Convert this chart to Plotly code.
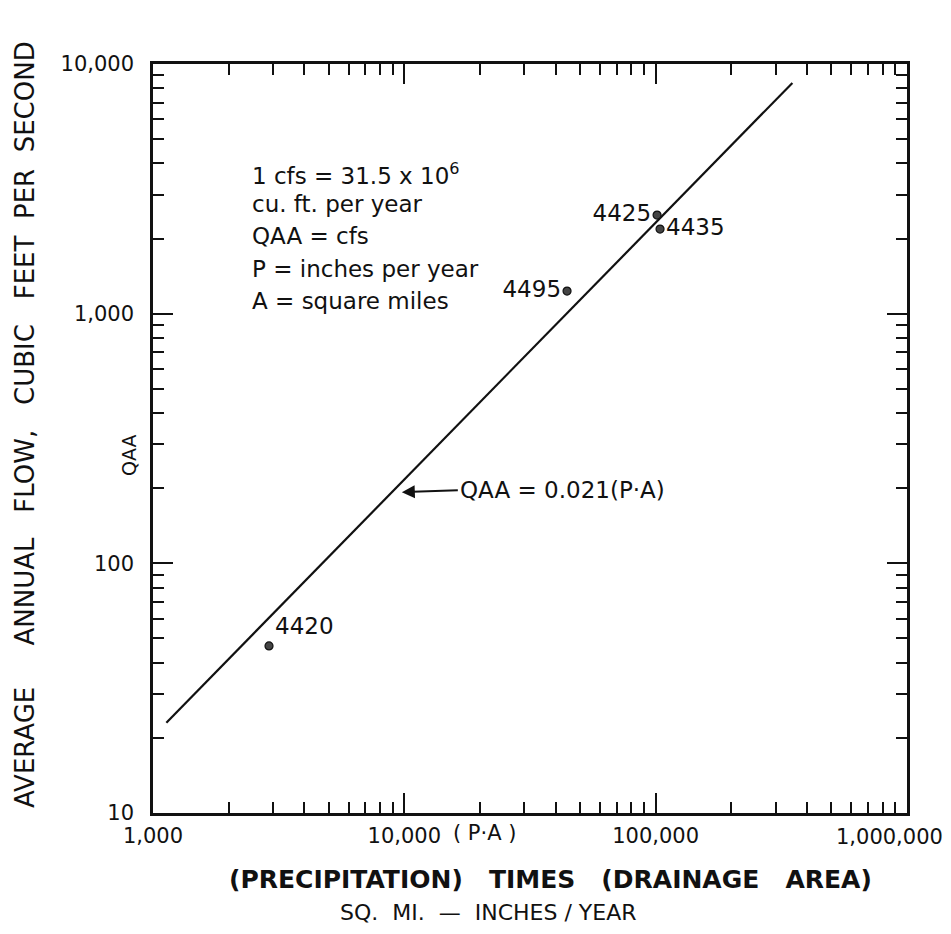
import plotly.graph_objects as go

# Data
station_ids = ["4420", "4495", "4425", "4435"]
pa_values = [2894, 44400, 101300, 104100]          # P*A, sq. mi.-inches/year
qaa_values = [46.7, 1232, 2483, 2183]              # cfs
label_positions = ["top right", "middle left", "middle left", "middle right"]

fit_pa = [1130, 350000]
fit_qaa = [23, 8400]

x_tickvals = [1000, 10000, 100000, 1000000]
x_ticktext = ["1,000", "10,000", "100,000", "1,000,000"]
y_tickvals = [10, 100, 1000, 10000]
y_ticktext = ["10", "100", "1,000", "10,000"]

FONT = "DejaVu Sans"
INK = "#111111"

fig = go.Figure()

fig.add_trace(go.Scatter(
    x=fit_pa, y=fit_qaa, mode="lines",
    line=dict(color=INK, width=2.2), hoverinfo="skip", showlegend=False))

fig.add_trace(go.Scatter(
    x=pa_values, y=qaa_values, mode="markers+text",
    text=station_ids, textposition=label_positions,
    textfont=dict(family=FONT, size=23, color=INK),
    marker=dict(color="#444444", size=8, line=dict(color=INK, width=1.2)),
    showlegend=False))

axis_common = dict(
    type="log", showgrid=False, zeroline=False,
    showline=True, linecolor=INK, linewidth=2.5, mirror="allticks",
    ticks="inside", ticklen=20, tickwidth=2, tickcolor=INK,
    tickfont=dict(family=FONT, size=21, color=INK),
    minor=dict(ticks="inside", ticklen=11, tickwidth=2, tickcolor=INK,
               dtick="D1", showgrid=False),
)

# last x label is drawn as an annotation (shifted left so it stays on the page)
fig.update_xaxes(range=[2.9999, 6.0001], tickvals=x_tickvals[:-1],
                 ticktext=x_ticktext[:-1], ticklabelstandoff=2, **axis_common)
fig.update_yaxes(range=[0.9999, 4.0001], tickvals=y_tickvals, ticktext=y_ticktext,
                 ticklabelstandoff=12, **axis_common)

fig.add_annotation(text=x_ticktext[-1], x=6, y=0, xref="x", yref="paper",
                   xanchor="right", yanchor="top", xshift=38, yshift=-10,
                   showarrow=False, font=dict(family=FONT, size=21, color=INK))

notes = [
    ("1 cfs = 31.5 x 10<sup>6</sup>", 174),
    ("cu. ft. per year", 204),
    ("QAA = cfs", 236),
    ("P = inches per year", 269),
    ("A = square miles", 301),
]
W, H = 951, 934
L, R, T, B = 153, 44, 64, 121
pw, ph = W - L - R, H - T - B

def px(x):
    return (x - L) / pw

def py(y):
    return 1 - (y - T) / ph

def note(text, x, y, size, angle=0, xanchor="center"):
    fig.add_annotation(text=text, xref="paper", yref="paper",
                       x=px(x), y=py(y), xanchor=xanchor, yanchor="middle",
                       textangle=angle, showarrow=False,
                       font=dict(family=FONT, size=size, color=INK))

for txt, yy in notes:
    note(txt, 250, yy, 23, xanchor="left")

# Equation with arrow (tip on the fitted line)
fig.add_annotation(text="QAA = 0.021(P·A)", x=3.99, y=2.285,
                   xref="x", yref="y", ax=56, ay=-2,
                   showarrow=True, arrowhead=2, arrowsize=1.3, arrowwidth=2,
                   arrowcolor=INK, xanchor="left", yanchor="middle",
                   font=dict(family=FONT, size=23, color=INK))

note("QAA", 129, 456, 19, angle=-90)
note("( P·A )", 484, 833, 21)
note("<b>(PRECIPITATION)   TIMES   (DRAINAGE   AREA)</b>", 550, 879, 25)
note("SQ.  MI.  —  INCHES / YEAR", 488, 912, 22)
note("AVERAGE     ANNUAL   FLOW,   CUBIC   FEET  PER  SECOND",
     25, 425, 26, angle=-90)

fig.update_layout(
    width=W, height=H,
    margin=dict(l=L, r=R, t=T, b=B),
    paper_bgcolor="white", plot_bgcolor="white",
    font=dict(family=FONT, color=INK),
)

fig.write_html("out.html")
